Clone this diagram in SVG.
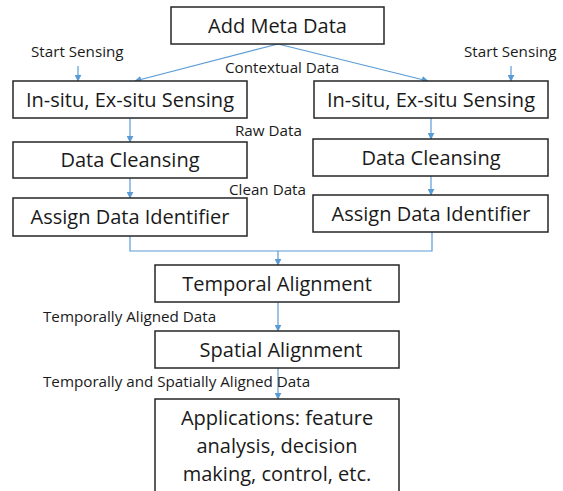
<svg xmlns="http://www.w3.org/2000/svg" width="563" height="491" viewBox="0 0 563 491">
<style>
.box{fill:#fff;stroke:#262626;stroke-width:1.5}
.bt{font-family:"Open Sans","Liberation Sans",sans-serif;font-size:20px;fill:#1a1a1a;text-anchor:middle}
.lb{font-family:"Open Sans","Liberation Sans",sans-serif;font-size:15.2px;fill:#1a1a1a}
.c{fill:none;stroke:#5b9bd5;stroke-width:1.2}
</style>
<defs>
<marker id="ah" viewBox="0 0 10 10" refX="9" refY="5" markerWidth="7" markerHeight="7" orient="auto" markerUnits="userSpaceOnUse">
<path d="M0,0 L10,5 L0,10 z" fill="#5b9bd5"/>
</marker>
</defs>
<rect width="563" height="491" fill="#fff"/>
<g id="connectors">
<path class="c" d="M278,44 L135,81" marker-end="url(#ah)"/>
<path class="c" d="M278,44 L428,81" marker-end="url(#ah)"/>
<path class="c" d="M78,66 L78,81" marker-end="url(#ah)"/>
<path class="c" d="M511,66 L511,81" marker-end="url(#ah)"/>
<path class="c" d="M130,118 L130,142" marker-end="url(#ah)"/>
<path class="c" d="M431,118 L431,139" marker-end="url(#ah)"/>
<path class="c" d="M130,178 L130,198" marker-end="url(#ah)"/>
<path class="c" d="M431,176 L431,195" marker-end="url(#ah)"/>
<path class="c" d="M130,236 L130,251 L432,251 L432,232"/>
<path class="c" d="M278,251 L278,265" marker-end="url(#ah)"/>
<path class="c" d="M278,302 L278,331" marker-end="url(#ah)"/>
<path class="c" d="M278,368 L278,399" marker-end="url(#ah)"/>
</g>
<g id="labels">
<text class="lb" x="31" y="57">Start Sensing</text>
<text class="lb" x="464" y="57">Start Sensing</text>
<text class="lb" x="225" y="73">Contextual Data</text>
<text class="lb" x="235" y="136">Raw Data</text>
<text class="lb" x="229" y="195">Clean Data</text>
<text class="lb" x="43" y="322">Temporally Aligned Data</text>
<text class="lb" x="43" y="387">Temporally and Spatially Aligned Data</text>
</g>
<g id="meta"><rect class="box" x="171" y="7" width="213" height="37"/><text class="bt" x="277.5" y="33">Add Meta Data</text></g>
<g id="sense-left"><rect class="box" x="13" y="81" width="234" height="37"/><text class="bt" x="130" y="107">In-situ, Ex-situ Sensing</text></g>
<g id="sense-right"><rect class="box" x="314" y="81" width="234" height="37"/><text class="bt" x="431" y="107">In-situ, Ex-situ Sensing</text></g>
<g id="clean-left"><rect class="box" x="13" y="142" width="234" height="36"/><text class="bt" x="130" y="167">Data Cleansing</text></g>
<g id="clean-right"><rect class="box" x="313" y="139" width="235" height="37"/><text class="bt" x="431" y="165">Data Cleansing</text></g>
<g id="assign-left"><rect class="box" x="13" y="198" width="234" height="38"/><text class="bt" x="130" y="224">Assign Data Identifier</text></g>
<g id="assign-right"><rect class="box" x="313" y="195" width="235" height="37"/><text class="bt" x="431" y="221">Assign Data Identifier</text></g>
<g id="temporal"><rect class="box" x="155" y="265" width="244" height="37"/><text class="bt" x="277" y="291">Temporal Alignment</text></g>
<g id="spatial"><rect class="box" x="155" y="331" width="244" height="37"/><text class="bt" x="281" y="357">Spatial Alignment</text></g>
<g id="apps"><rect class="box" x="155" y="399" width="244" height="97"/>
<text class="bt" x="277" y="425">Applications: feature</text>
<text class="bt" x="277" y="453">analysis, decision</text>
<text class="bt" x="277" y="481">making, control, etc.</text></g>
</svg>
